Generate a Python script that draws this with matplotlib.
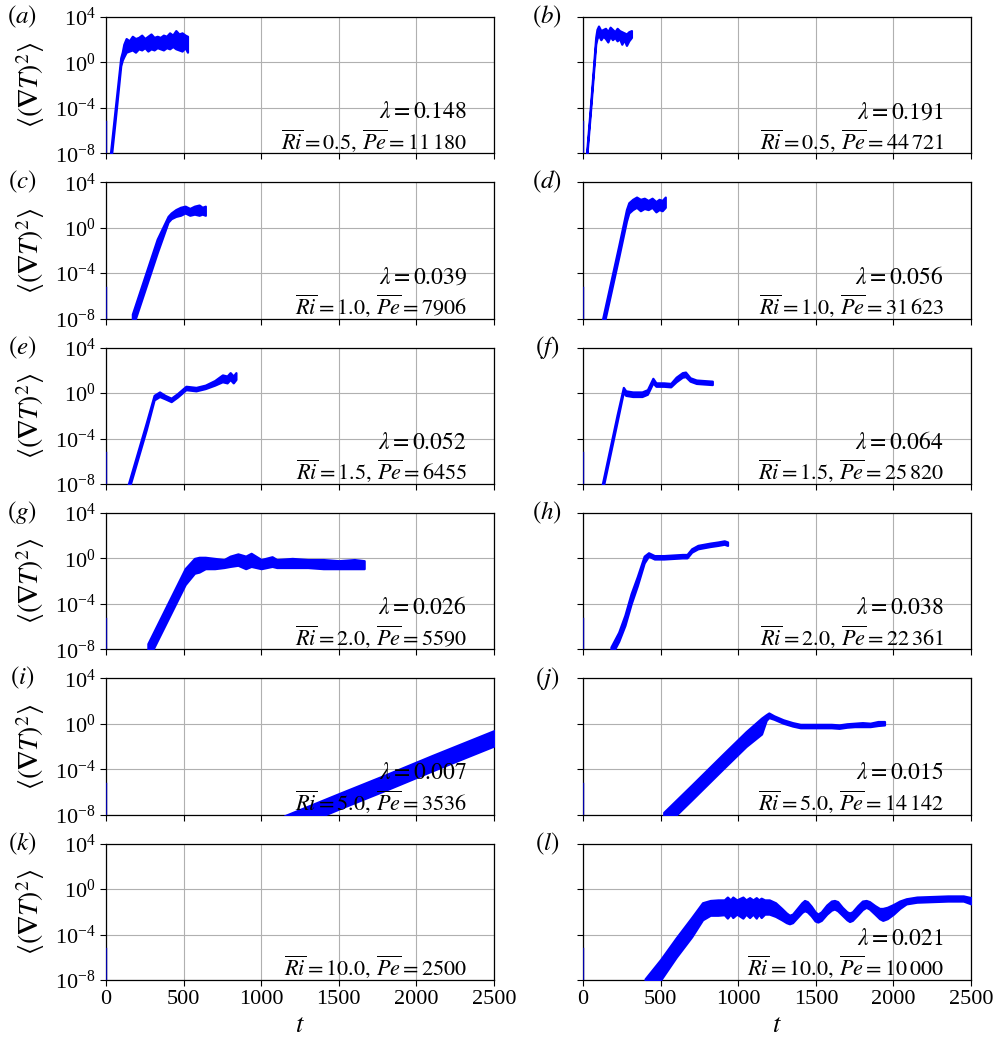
import numpy as np
import matplotlib
matplotlib.use("Agg")
import matplotlib.pyplot as plt

plt.rcParams["font.family"] = "serif"
plt.rcParams["font.serif"] = ["Liberation Serif", "DejaVu Serif"]
plt.rcParams["mathtext.fontset"] = "stix"
plt.rcParams["font.size"] = 16

# ---- panel metadata ----
panel_labels = ["a", "b", "c", "d", "e", "f", "g", "h", "i", "j", "k", "l"]
ri_values = ["0.5", "0.5", "1.0", "1.0", "1.5", "1.5", "2.0", "2.0", "5.0", "5.0", "10.0", "10.0"]
pe_values = [r"11\,180", r"44\,721", "7906", r"31\,623", "6455", r"25\,820",
             "5590", r"22\,361", "3536", r"14\,142", "2500", r"10\,000"]
growth_rates = ["0.148", "0.191", "0.039", "0.056", "0.052", "0.064",
                "0.026", "0.038", "0.007", "0.015", None, "0.021"]

# ---- time series: band of log10 <(grad T)^2> (lower / upper envelope) ----
t_a = [25, 60, 95, 105, 115, 130, 150, 170, 190, 210, 230, 250, 270, 290, 310, 330, 350,
       370, 390, 410, 430, 450, 470, 490, 510, 525]
lo_a = [-9.5, -5.0, -0.3, 0.2, 0.5, 0.9, 1.0, 1.1, 0.9, 1.2, 1.1, 1.3, 1.0, 1.2, 1.1, 1.3,
        1.2, 1.1, 1.3, 1.2, 1.4, 1.2, 1.1, 1.0, 1.3, 0.9]
hi_a = [-8.5, -4.0, 0.4, 0.9, 1.6, 2.1, 1.9, 2.3, 2.1, 2.2, 2.4, 2.1, 2.3, 2.5, 2.2, 2.3,
        2.2, 2.4, 2.3, 2.6, 2.4, 2.8, 2.5, 2.6, 2.4, 2.3]

t_b = [20, 50, 82, 90, 100, 115, 130, 145, 160, 175, 190, 205, 220, 235, 250, 265, 280, 295, 312]
lo_b = [-9.0, -4.0, 1.6, 2.1, 2.4, 2.0, 2.3, 2.1, 1.8, 2.3, 2.0, 2.2, 1.9, 2.1, 1.6, 2.0,
        1.5, 1.9, 2.2]
hi_b = [-8.5, -3.5, 2.2, 2.9, 3.2, 2.8, 2.9, 3.0, 2.7, 3.1, 2.9, 2.7, 3.0, 2.8, 2.7, 2.6,
        2.5, 2.7, 2.8]

t_c = [170, 250, 330, 400, 420, 450, 480, 510, 540, 570, 600, 620, 640]
lo_c = [-8.8, -5.5, -2.2, 0.5, 0.8, 1.0, 1.1, 1.3, 1.1, 1.2, 1.1, 1.2, 1.1]
hi_c = [-7.6, -4.3, -1.0, 1.0, 1.3, 1.6, 1.8, 1.9, 1.7, 1.9, 2.0, 1.8, 1.9]

t_d = [125, 180, 230, 280, 295, 320, 345, 370, 395, 420, 445, 470, 490, 510, 530]
lo_d = [-9.1, -5.7, -2.6, 0.6, 1.3, 1.6, 1.8, 1.5, 1.7, 1.6, 1.8, 1.4, 1.6, 1.5, 1.8]
hi_d = [-8.1, -4.7, -1.6, 1.6, 2.2, 2.5, 2.7, 2.5, 2.6, 2.4, 2.6, 2.3, 2.5, 2.4, 2.7]

t_e = [140, 200, 260, 310, 345, 380, 420, 460, 515, 580, 640, 700, 750, 780, 800, 820, 837]
lo_e = [-8.8, -6.0, -3.2, -0.6, -0.3, -0.5, -0.75, -0.35, 0.3, 0.2, 0.4, 0.7, 1.0, 0.9,
        1.2, 0.9, 1.2]
hi_e = [-8.2, -5.4, -2.6, -0.2, 0.1, -0.2, -0.45, -0.05, 0.6, 0.5, 0.7, 1.1, 1.6, 1.5,
        1.8, 1.5, 1.8]

t_f = [120, 170, 220, 260, 275, 320, 380, 415, 450, 470, 520, 565, 600, 640, 660, 690,
       730, 780, 833]
lo_f = [-8.9, -5.7, -2.5, 0.1, -0.2, -0.3, -0.3, -0.1, 0.9, 0.6, 0.6, 0.55, 1.0, 1.4,
        1.45, 1.05, 0.85, 0.8, 0.75]
hi_f = [-8.3, -5.1, -1.9, 0.5, 0.2, 0.1, 0.1, 0.3, 1.3, 0.9, 0.9, 0.85, 1.4, 1.8, 1.85,
        1.35, 1.15, 1.1, 1.05]

t_g = [270, 350, 430, 510, 570, 600, 640, 700, 760, 800, 850, 900, 935, 1000, 1070, 1100,
       1200, 1300, 1400, 1500, 1600, 1663]
lo_g = [-8.9, -6.7, -4.5, -2.3, -1.3, -1.2, -0.9, -0.9, -0.8, -0.7, -0.6, -0.9, -0.7,
        -0.9, -0.7, -0.8, -0.8, -0.8, -0.9, -0.9, -0.9, -0.9]
hi_g = [-7.5, -5.3, -3.1, -0.9, 0.0, 0.1, 0.1, 0.0, -0.1, 0.2, 0.4, 0.2, 0.45, -0.1, 0.15,
        -0.1, 0.0, -0.1, -0.1, -0.2, -0.1, -0.2]

t_h = [180, 230, 270, 310, 350, 394, 422, 460, 520, 580, 640, 670, 700, 740, 780, 820,
       870, 910, 931]
lo_h = [-8.6, -7.3, -5.9, -4.0, -2.4, -0.4, 0.2, -0.05, -0.05, 0.0, 0.05, 0.05, 0.55,
        0.85, 0.95, 1.05, 1.15, 1.25, 1.15]
hi_h = [-7.8, -6.5, -5.0, -3.1, -1.6, 0.2, 0.5, 0.25, 0.25, 0.3, 0.35, 0.35, 0.85, 1.15,
        1.25, 1.35, 1.45, 1.55, 1.45]

t_i = [1150, 1500, 1800, 2100, 2500]
lo_i = [-9.5, -7.5, -5.85, -4.15, -1.95]
hi_i = [-8.1, -6.15, -4.5, -2.8, -0.6]

t_j = [520, 700, 900, 1050, 1150, 1180, 1197, 1230, 1290, 1350, 1400, 1500, 1600, 1650,
       1700, 1750, 1800, 1850, 1900, 1942]
lo_j = [-9.1, -6.7, -4.0, -2.0, -0.9, 0.3, 0.55, 0.4, 0.05, -0.2, -0.35, -0.35, -0.35,
        -0.4, -0.3, -0.25, -0.25, -0.25, -0.15, -0.1]
hi_j = [-7.8, -5.4, -2.7, -0.7, 0.5, 0.8, 0.95, 0.7, 0.35, 0.1, -0.05, -0.05, -0.05,
        -0.1, 0.0, 0.05, 0.1, 0.05, 0.2, 0.2]

t_k = []
lo_k = []
hi_k = []

t_l = [400, 500, 600, 700, 770, 820, 870, 910, 930, 950, 965, 990, 1030, 1050, 1073,
       1095, 1116, 1132, 1148, 1170, 1200, 1240, 1280, 1310, 1330, 1350, 1380, 1410, 1427,
       1445, 1470, 1495, 1513, 1535, 1570, 1600, 1620, 1640, 1670, 1700, 1717, 1735, 1770,
       1800, 1824, 1845, 1880, 1910, 1931, 1960, 2000, 2040, 2082, 2150, 2250, 2350, 2450,
       2500]
lo_l = [-9.5, -8.0, -6.0, -4.2, -2.7, -2.3, -2.3, -2.25, -2.55, -2.2, -2.5, -2.2, -2.55,
        -2.2, -2.5, -2.2, -2.55, -2.2, -2.5, -2.2, -2.2, -2.4, -2.7, -2.95, -3.05, -2.95,
        -2.5, -2.05, -1.9, -2.0, -2.35, -2.8, -2.9, -2.75, -2.2, -1.85, -1.75, -1.9, -2.3,
        -2.7, -2.85, -2.75, -2.25, -1.8, -1.6, -1.75, -2.2, -2.6, -2.75, -2.6, -2.2, -1.7,
        -1.3, -1.15, -1.1, -1.05, -1.05, -1.3]
hi_l = [-7.9, -6.2, -4.3, -2.5, -1.2, -1.0, -0.95, -0.95, -0.7, -0.95, -0.7, -0.95,
        -0.7, -0.95, -0.75, -0.95, -0.75, -0.95, -0.8, -0.95, -0.95, -1.2, -1.7, -2.1,
        -2.3, -2.2, -1.7, -1.2, -1.0, -1.1, -1.5, -2.0, -2.2, -2.0, -1.4, -1.05, -1.0,
        -1.1, -1.6, -2.0, -2.1, -2.0, -1.45, -1.05, -1.0, -1.1, -1.45, -1.7, -1.7, -1.6,
        -1.35, -1.05, -0.85, -0.7, -0.65, -0.6, -0.6, -0.75]

series = [(t_a, lo_a, hi_a), (t_b, lo_b, hi_b), (t_c, lo_c, hi_c), (t_d, lo_d, hi_d),
          (t_e, lo_e, hi_e), (t_f, lo_f, hi_f), (t_g, lo_g, hi_g), (t_h, lo_h, hi_h),
          (t_i, lo_i, hi_i), (t_j, lo_j, hi_j), (t_k, lo_k, hi_k), (t_l, lo_l, hi_l)]

# initial transient at t ~ 0 (same in every run)
spike_t = [1, 1]
spike_log = [-8.5, -5.2]

x_ticks = [0, 500, 1000, 1500, 2000, 2500]
y_ticks = [1e-8, 1e-4, 1e0, 1e4]

fig, axes = plt.subplots(6, 2, figsize=(9.95, 10.41), dpi=100, sharex=True)
fig.subplots_adjust(left=0.1065, right=0.976, top=0.9837, bottom=0.0586,
                    wspace=0.229, hspace=0.213)

for idx, ax in enumerate(axes.flat):
    t, lo, hi = series[idx]
    col = idx % 2
    ax.set_yscale("log")
    ax.set_xlim(0, 2500)
    ax.set_ylim(1e-8, 1e4)
    ax.set_xticks(x_ticks)
    ax.set_yticks(y_ticks)
    ax.minorticks_off()
    ax.grid(True, color="#b0b0b0", linewidth=0.8)
    ax.set_axisbelow(True)
    ax.tick_params(direction="out", length=4, width=0.8, labelsize=16)

    ax.plot(spike_t, 10.0 ** np.array(spike_log), color="#0000aa", lw=1.0,
            clip_on=True, zorder=3)
    if len(t):
        ax.fill_between(t, 10.0 ** np.array(lo), 10.0 ** np.array(hi),
                        facecolor="blue", edgecolor="blue", linewidth=1.6, zorder=3)

    if growth_rates[idx] is not None:
        ax.text(0.93, 0.30, r"$\lambda = %s$" % growth_rates[idx], transform=ax.transAxes,
                ha="right", va="center", fontsize=17, zorder=4)
    ax.text(0.93, 0.095,
            r"$\overline{Ri} = %s,\, \overline{Pe} = %s$" % (ri_values[idx], pe_values[idx]),
            transform=ax.transAxes, ha="right", va="center", fontsize=16, zorder=4)

    label_x = -0.216 if col == 0 else -0.093
    ax.text(label_x, 1.0, r"$(%s)$" % panel_labels[idx], transform=ax.transAxes,
            ha="center", va="center", fontsize=18)

    if col == 0:
        ax.set_ylabel(r"$\langle(\mathbf{\nabla} T)^2\rangle$", fontsize=20, labelpad=6)
    else:
        ax.tick_params(labelleft=False)
    for s in ax.spines.values():
        s.set_linewidth(0.9)

for ax in axes[-1]:
    ax.set_xlabel(r"$t$", fontsize=19, labelpad=4)

fig.savefig("out.png", dpi=100)
